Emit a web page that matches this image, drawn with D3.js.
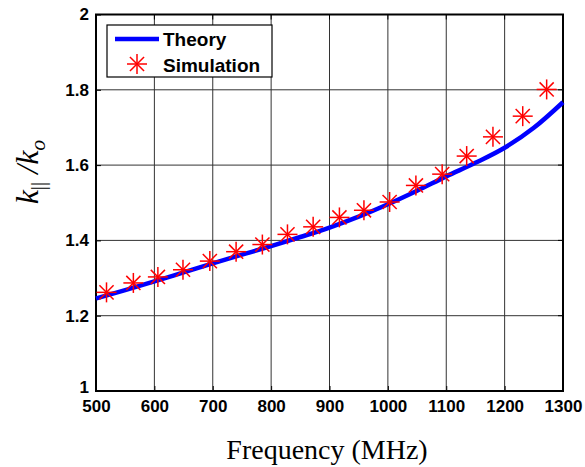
<!DOCTYPE html>
<html>
<head>
<meta charset="utf-8">
<script src="https://cdn.jsdelivr.net/npm/d3@7"></script>
<style>
  html, body { margin: 0; padding: 0; background: #fff; }
  svg { display: block; }
</style>
</head>
<body>
<svg id="chart" width="585" height="467"></svg>
<script>
// Theory curve (frequency in MHz, normalised wavenumber)
const theoryFreq = [500, 550, 600, 650, 700, 750, 800, 850, 900, 950, 1000, 1050, 1100, 1150, 1200, 1250, 1300];
const theoryK    = [1.246, 1.268, 1.291, 1.315, 1.339, 1.362, 1.385, 1.409, 1.434, 1.463, 1.496, 1.532, 1.570, 1.606, 1.646, 1.699, 1.767];

// Simulated points
const simFreq = [518, 564, 606, 649, 695, 740, 785, 828, 872, 917, 959, 1003, 1048, 1093, 1135, 1180, 1231, 1272];
const simK    = [1.262, 1.287, 1.303, 1.322, 1.345, 1.370, 1.389, 1.416, 1.436, 1.461, 1.480, 1.502, 1.546, 1.576, 1.624, 1.675, 1.730, 1.801];

const xTicks = [500, 600, 700, 800, 900, 1000, 1100, 1200, 1300];
const yTicks = [1, 1.2, 1.4, 1.6, 1.8, 2];

const svg = d3.select("#chart");
const L = 96, R = 563, T = 14.5, B = 391;

const x = d3.scaleLinear().domain([500, 1300]).range([L, R]);
const y = d3.scaleLinear().domain([1, 2]).range([B, T]);

// grid
const grid = svg.append("g").attr("stroke", "#333").attr("stroke-width", 1);
grid.selectAll("line.gx").data(xTicks.slice(1, -1)).join("line")
  .attr("x1", d => x(d)).attr("x2", d => x(d)).attr("y1", T).attr("y2", B);
grid.selectAll("line.gy").data(yTicks.slice(1, -1)).join("line")
  .attr("y1", d => y(d)).attr("y2", d => y(d)).attr("x1", L).attr("x2", R);

// axes with inward ticks
const tickFont = "bold 17px 'Liberation Sans', Arial, sans-serif";
const xAxis = svg.append("g").attr("transform", `translate(0,${B})`)
  .call(d3.axisBottom(x).tickValues(xTicks).tickFormat(d3.format("d")).tickSizeInner(-5).tickSizeOuter(0).tickPadding(8.5));
const yAxis = svg.append("g").attr("transform", `translate(${L},0)`)
  .call(d3.axisLeft(y).tickValues(yTicks).tickFormat(d => d === 1 || d === 2 ? d3.format("d")(d) : d3.format(".1f")(d)).tickSizeInner(-5).tickSizeOuter(0).tickPadding(7));
[xAxis, yAxis].forEach(a => {
  a.selectAll("text").style("font", tickFont).attr("fill", "#000");
  a.selectAll("line").attr("stroke", "#000");
  a.select(".domain").attr("stroke", "none");
});
// lowest y label sits slightly raised above the x labels
yAxis.selectAll(".tick").filter(d => d === 1).select("text").attr("dy", "0.1em");

// right-side and top ticks
svg.append("g").selectAll("line").data(yTicks).join("line")
  .attr("x1", R).attr("x2", R - 5).attr("y1", d => y(d)).attr("y2", d => y(d)).attr("stroke", "#000");
svg.append("g").selectAll("line").data(xTicks).join("line")
  .attr("y1", T).attr("y2", T + 5).attr("x1", d => x(d)).attr("x2", d => x(d)).attr("stroke", "#000");

// frame
svg.append("rect").attr("x", L).attr("y", T).attr("width", R - L).attr("height", B - T)
  .attr("fill", "none").attr("stroke", "#000").attr("stroke-width", 2);

// theory line
const theory = theoryFreq.map((f, i) => [f, theoryK[i]]);
svg.append("path").datum(theory)
  .attr("fill", "none").attr("stroke", "#0000ff").attr("stroke-width", 4.5)
  .attr("stroke-linejoin", "round")
  .attr("d", d3.line().x(d => x(d[0])).y(d => y(d[1])).curve(d3.curveMonotoneX));

// asterisk marker
function star(g, r) {
  const a = r * Math.SQRT1_2;
  g.append("line").attr("x1", -r).attr("x2", r).attr("y1", 0).attr("y2", 0);
  g.append("line").attr("x1", 0).attr("x2", 0).attr("y1", -r).attr("y2", r);
  g.append("line").attr("x1", -a).attr("x2", a).attr("y1", -a).attr("y2", a);
  g.append("line").attr("x1", -a).attr("x2", a).attr("y1", a).attr("y2", -a);
}
const sim = simFreq.map((f, i) => [f, simK[i]]);
svg.append("g").attr("stroke", "#ff0000").attr("stroke-width", 1.5)
  .selectAll("g").data(sim).join("g")
  .attr("transform", d => `translate(${x(d[0])},${y(d[1])})`)
  .each(function () { star(d3.select(this), 10); });

// legend
const lg = svg.append("g");
lg.append("rect").attr("x", 107).attr("y", 25).attr("width", 165).attr("height", 52)
  .attr("fill", "#fff").attr("stroke", "#000").attr("stroke-width", 1.2);
lg.append("line").attr("x1", 115).attr("x2", 159).attr("y1", 39).attr("y2", 39)
  .attr("stroke", "#0000ff").attr("stroke-width", 4.5);
const ls = lg.append("g").attr("transform", "translate(137,64)").attr("stroke", "#ff0000").attr("stroke-width", 1.5);
star(ls, 10);
const legFont = "bold 19px 'Liberation Sans', Arial, sans-serif";
lg.append("text").attr("x", 163).attr("y", 46).style("font", legFont).text("Theory");
lg.append("text").attr("x", 163).attr("y", 72).style("font", legFont).text("Simulation");

// axis titles
svg.append("text").attr("x", 327).attr("y", 459).attr("text-anchor", "middle")
  .style("font", "28px 'Liberation Serif', 'Times New Roman', serif").text("Frequency (MHz)");

const yl = svg.append("text").attr("transform", "translate(38,172) rotate(-90)")
  .attr("text-anchor", "middle")
  .style("font", "italic 32px 'Liberation Serif', 'Times New Roman', serif");
yl.append("tspan").text("k");
yl.append("tspan").attr("dy", 7).style("font-size", "21px").style("font-style", "normal").text("||");
yl.append("tspan").attr("dy", -7).text(" /k");
yl.append("tspan").attr("dy", 7).style("font-size", "22px").text("o");
</script>
</body>
</html>
